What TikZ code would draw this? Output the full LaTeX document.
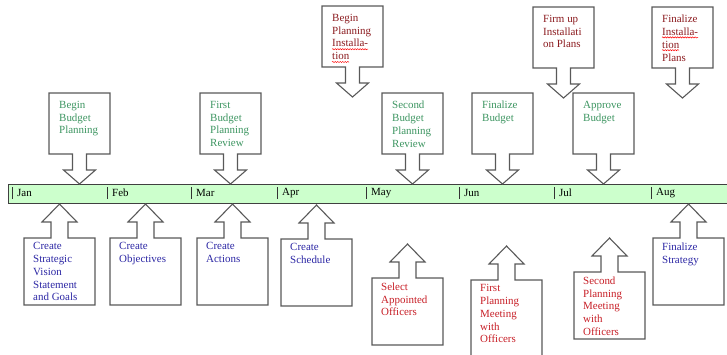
\documentclass[tikz,border=0pt]{standalone}
\usepackage{fontspec}
\setmainfont{Liberation Serif}
\usetikzlibrary{decorations.pathmorphing}

\definecolor{plangreen}{RGB}{62,150,98}
\definecolor{planblue}{RGB}{45,40,165}
\definecolor{planmaroon}{RGB}{140,28,32}
\definecolor{planred}{RGB}{200,32,40}
\definecolor{barfill}{RGB}{204,255,204}

\tikzset{
  callout/.style={draw=black!65, line width=1.1pt, fill=white, line join=miter},
  calltext/.style={anchor=north west, inner sep=0pt, align=left, font=\fontsize{11}{12.8}\selectfont},
  month/.style={anchor=west, inner xsep=5bp, inner ysep=0pt, minimum height=11bp, font=\fontsize{11}{12}\selectfont},
  monthtick/.style={draw=black!80, line width=0.8pt},
  timeline/.style={draw=black!75, fill=barfill, line width=0.9pt, inner sep=0pt, anchor=north west},
  spellmark/.style={draw=red, line width=0.5pt, decorate, decoration={snake, amplitude=0.6pt, segment length=2.5pt}},
}

% box with arrow pointing down: name, left, top, colour, text
\newcommand{\downcallout}[5]{%
  \draw[callout] (#2,#3) -- ++(61,0) -- ++(0,61) -- ++(-23.5,0) -- ++(0,16) -- ++(9,0)
    -- ++(-16,14) -- ++(-16,-14) -- ++(9,0) -- ++(0,-16) -- ++(-23.5,0) -- cycle;
  \node[calltext, text=#4] (#1) at (#2+10,#3+8) {#5};
}
% box with arrow pointing up: name, left, top, height, colour, text
\newcommand{\upcallout}[6]{%
  \draw[callout] (#2,#3) -- ++(27,0) -- ++(0,-16) -- ++(-9,0) -- ++(17.5,-18) -- ++(17.5,18)
    -- ++(-9,0) -- ++(0,16) -- ++(27,0) -- ++(0,#4) -- ++(-71,0) -- cycle;
  \node[calltext, text=#5] (#1) at (#2+9,#3+4.5) {#6};
}

\begin{document}
\begin{tikzpicture}[x=1bp, y=-1bp]
  \useasboundingbox (0,0) rectangle (727,354);
  \clip (0,0) rectangle (727,354);

  % time line
  \node[timeline, minimum width=724bp, minimum height=19bp] (timeline) at (8,184) {};
  \foreach \m/\name/\x in {jan/Jan/12, feb/Feb/107, mar/Mar/191, apr/Apr/277,
                            may/May/366, jun/Jun/459, jul/Jul/554, aug/Aug/651} {
    \node[month] (\m) at (\x,193) {\name};
    \draw[monthtick] (\m.north west) -- (\m.south west);
  }

  % budget and installation milestones
  \downcallout{beginbudget}{49}{93}{plangreen}{Begin\\Budget\\Planning}
  \downcallout{firstreview}{200}{93}{plangreen}{First\\Budget\\Planning\\Review}
  \downcallout{begininstall}{322}{6}{planmaroon}{Begin\\Planning\\Installa-\\tion}
  \downcallout{secondreview}{382}{93}{plangreen}{Second\\Budget\\Planning\\Review}
  \downcallout{finalbudget}{472}{93}{plangreen}{Finalize\\Budget}
  \downcallout{firminstall}{533}{7}{planmaroon}{Firm up\\Installati\\on Plans}
  \downcallout{approvebudget}{573}{93}{plangreen}{Approve\\Budget}
  \downcallout{finalinstall}{652}{7}{planmaroon}{Finalize\\Installa-\\tion\\Plans}

  % spelling marks
  \draw[spellmark] ([shift={(0,35.2)}]begininstall.north west) -- ++(36,0);
  \draw[spellmark] ([shift={(0,48)}]begininstall.north west) -- ++(17,0);
  \draw[spellmark] ([shift={(0,22.4)}]finalinstall.north west) -- ++(36,0);
  \draw[spellmark] ([shift={(0,35.2)}]finalinstall.north west) -- ++(17,0);

  % strategy and officer milestones
  \upcallout{vision}{24}{238}{67}{planblue}{Create\\Strategic\\Vision\\Statement\\and Goals}
  \upcallout{objectives}{110}{238}{67}{planblue}{Create\\Objectives}
  \upcallout{actions}{197}{238}{67}{planblue}{Create\\Actions}
  \upcallout{schedule}{281}{239}{67}{planblue}{Create\\Schedule}
  \upcallout{appoint}{372}{278}{67}{planred}{Select\\Appointed\\Officers}
  \upcallout{firstmeeting}{471}{280}{90}{planred}{First\\Planning\\Meeting\\with\\Officers}
  \upcallout{secondmeeting}{574}{272}{67}{planred}{Second\\Planning\\Meeting\\with\\Officers}
  \upcallout{finalstrategy}{653}{238}{67}{planblue}{Finalize\\Strategy}
\end{tikzpicture}
\end{document}
